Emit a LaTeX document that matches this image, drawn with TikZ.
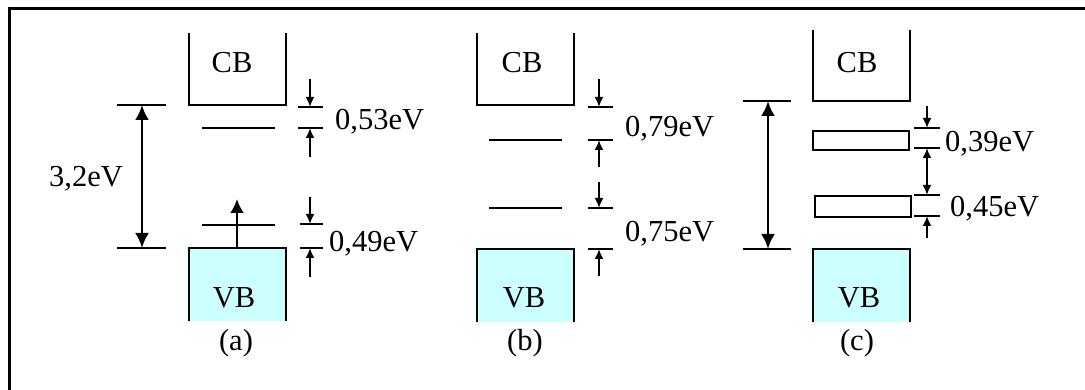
\documentclass[tikz,border=0pt]{standalone}
\usepackage{fontspec}
\setmainfont{Liberation Serif}
\usetikzlibrary{arrows.meta}
\definecolor{vbcyan}{RGB}{204,255,255}

\begin{document}
\begin{tikzpicture}[x=1pt, y=-1pt,
    bandline/.style={black, line width=1.5pt},
    levelline/.style={black, line width=1.6pt},
    gaparrow/.style={{Latex[length=15pt,width=14pt]}-{Latex[length=15pt,width=14pt]}, line width=2.6pt},
    exarrow/.style={-{Latex[length=14pt,width=14pt]}, line width=2.6pt},
    dimarrow/.style={-{Latex[length=10pt,width=9pt]}, line width=2.2pt},
    dimboth/.style={{Latex[length=10pt,width=9pt]}-{Latex[length=10pt,width=9pt]}, line width=2.2pt},
    txt/.style={font=\fontsize{30.5}{36}\selectfont, inner sep=0pt},
    bandlabel/.style={txt, anchor=base},
    evlabel/.style={txt, anchor=base west}
]
\useasboundingbox (0,0) rectangle (1085,390);
\draw[line width=3pt] (9,390) -- (9,9) -- (1085,9);

% (a)
\draw[bandline] (189,33) -- (189,105) -- (286,105) -- (286,33);
\node[bandlabel] (cbA) at (232,73) {CB};
\fill[vbcyan] (189,248) rectangle (286,321);
\draw[bandline] (189,321) -- (189,248) -- (286,248) -- (286,321);
\node[bandlabel] (vbA) at (234,308) {VB};
\node[bandlabel] (capA) at (236,350) {(a)};
\draw[bandline] (117,105) -- (166,105) (117,248) -- (166,248);
\coordinate (gA1) at (142,105);
\coordinate (gA2) at (142,248);
\draw[gaparrow] (gA1) -- (gA2);
\node[bandlabel] (gapA) at (86,187) {3,2eV};
\draw[levelline] (202,128) -- (275,128) (202,225) -- (275,225);
\coordinate (exA1) at (237,248);
\coordinate (exA2) at (237,199);
\draw[exarrow] (exA1) -- (exA2);
\node[evlabel] (eA1) at (335,130) {0,53eV};
\node[evlabel] (eA2) at (329,252) {0,49eV};

% (b)
\draw[bandline] (477,33) -- (477,105) -- (574,105) -- (574,33);
\node[bandlabel] (cbB) at (522,73) {CB};
\fill[vbcyan] (477,249) rectangle (574,322);
\draw[bandline] (477,322) -- (477,249) -- (574,249) -- (574,322);
\node[bandlabel] (vbB) at (524,308) {VB};
\node[bandlabel] (capB) at (525,350) {(b)};
\draw[levelline] (489,140) -- (562,140) (489,208) -- (562,208);
\node[evlabel] (eB1) at (625,137) {0,79eV};
\node[evlabel] (eB2) at (625,242) {0,75eV};

% (c)
\draw[bandline] (813,30) -- (813,101) -- (910,101) -- (910,30);
\node[bandlabel] (cbC) at (857,73) {CB};
\fill[vbcyan] (813,249) rectangle (910,322);
\draw[bandline] (813,322) -- (813,249) -- (910,249) -- (910,322);
\node[bandlabel] (vbC) at (859,308) {VB};
\node[bandlabel] (capC) at (857,350) {(c)};
\draw[bandline] (743,101) -- (791,101) (743,249) -- (791,249);
\coordinate (gC1) at (768,101);
\coordinate (gC2) at (768,249);
\draw[gaparrow] (gC1) -- (gC2);
\draw[line width=1.9pt] (813,131) rectangle (909,150) (815,196) rectangle (911,217);
\node[evlabel] (eC1) at (945,152) {0,39eV};
\node[evlabel] (eC2) at (950,217) {0,45eV};
\coordinate (dC1) at (927,148);
\coordinate (dC2) at (927,195);
\draw[dimboth] (dC1) -- (dC2);

% short marks
\foreach \xa/\xb/\y in {298/323/107, 298/323/128, 300/323/224, 300/323/248,
                         588/613/107, 588/613/140, 588/613/208, 588/613/249,
                         914/940/128, 914/940/148, 914/940/195, 914/940/216}
  \draw[bandline] (\xa,\y) -- (\xb,\y);

% dimension arrows
\foreach \n/\x/\ys/\ye in {1/310/79/107, 2/310/157/128, 3/310/197/224, 4/310/277/248,
                           5/599/79/107, 6/599/167/140, 7/599/182/208, 8/599/276/249,
                           9/927/106/128, 10/927/238/216}
{
  \coordinate (ds\n) at (\x,\ys);
  \coordinate (de\n) at (\x,\ye);
  \draw[dimarrow] (ds\n) -- (de\n);
}
\end{tikzpicture}
\end{document}
